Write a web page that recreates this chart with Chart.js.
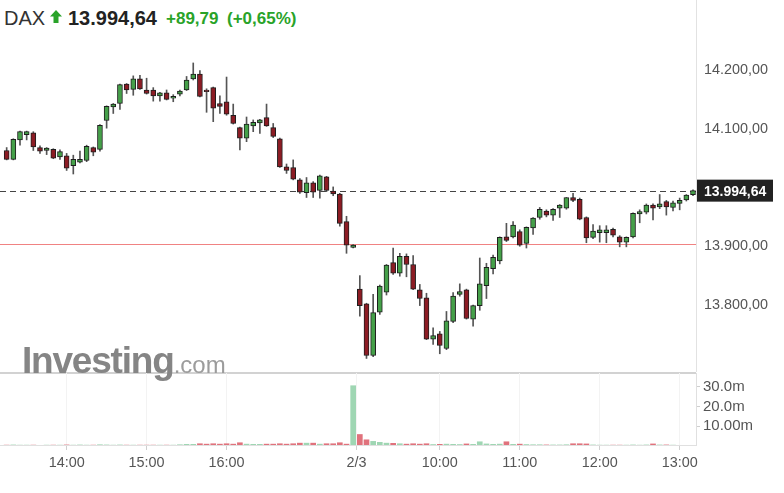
<!DOCTYPE html>
<html>
<head>
<meta charset="utf-8">
<script src="https://cdn.jsdelivr.net/npm/chart.js@4.4.1/dist/chart.umd.min.js"></script>
<style>
  html, body { margin: 0; padding: 0; background: #fff; }
  body { width: 784px; height: 493px; position: relative; overflow: hidden;
         font-family: "Liberation Sans", Arial, sans-serif; }
  .t { position: absolute; white-space: nowrap; line-height: 1; }
  #priceCanvas { position: absolute; left: 0; top: 0; }
  #volCanvas { position: absolute; left: 0; top: 373px; }
  .wm { position: absolute; left: 22px; top: 342px; white-space: nowrap; line-height: 1; }
</style>
</head>
<body>
<div class="t" style="left:4px;top:8px;font-size:20px;color:#333;">DAX</div>
<svg class="t" style="left:50px;top:10px;" width="12" height="13" viewBox="0 0 12 13">
  <polygon points="6,0 12,6.5 8.5,6.5 8.5,13 3.5,13 3.5,6.5 0,6.5" fill="#29a329"/>
</svg>
<div class="t" style="left:68px;top:8px;font-size:20px;font-weight:bold;color:#222;">13.994,64</div>
<div class="t" style="left:166px;top:10px;font-size:17px;font-weight:bold;color:#29a329;">+89,79</div>
<div class="t" style="left:227px;top:10px;font-size:17px;font-weight:bold;color:#29a329;">(+0,65%)</div>

<canvas id="priceCanvas" width="784" height="374"></canvas>
<canvas id="volCanvas" width="784" height="107"></canvas>

<div class="wm"><span style="font-size:37px;font-weight:bold;color:#858585;letter-spacing:-1.2px;">Investing</span><span style="font-size:24px;color:#9c9c9c;">.com</span></div>

<script>
// 5-minute DAX candles, 13:15 (day 1) .. 13:15 (2/3)
const opens = [14063,14048,14081,14090,14093,14068,14063,14065,14052,14054,
  14037,14043,14046,14068,14065,14114,14137,14143,14176,14167,
  14185,14166,14166,14156,14161,14152,14159,14166,14185,14193,
  14166,14170,14143,14146,14123,14102,14084,14105,14110,14119,
  14102,14083,14035,14034,14013,13991,14008,13995,14018,13994,
  13989,13942,13898,13827,13802,13714,13788,13822,13872,13854,
  13883,13869,13826,13812,13742,13751,13726,13772,13818,13826,
  13776,13799,13833,13862,13875,13916,13916,13925,13905,13931,
  13949,13960,13953,13965,13965,13983,13980,13949,13915,13923,
  13923,13929,13916,13907,13916,13955,13958,13970,13967,13976,
  13966,13973,13979,13988];
const highs = [14068,14083,14096,14096,14095,14071,14068,14066,14064,14058,
  14055,14062,14072,14069,14107,14139,14143,14176,14177,14190,
  14191,14186,14170,14162,14166,14158,14166,14189,14212,14199,
  14168,14171,14156,14188,14142,14103,14120,14115,14116,14142,
  14109,14084,14040,14047,14015,14017,14010,14021,14019,14001,
  13990,13951,13903,13850,13803,13818,13834,13869,13897,13888,
  13887,13884,13835,13820,13761,13755,13789,13821,13836,13827,
  13800,13880,13871,13885,13916,13939,13942,13928,13933,13949,
  13966,13962,13964,13971,13983,13990,13982,13950,13937,13935,
  13935,13931,13918,13916,13957,13962,13972,13972,13988,13978,
  13977,13982,13988,13996];
const lows = [14047,14047,14072,14081,14063,14058,14056,14049,14048,14029,
  14023,14042,14044,14054,14062,14101,14126,14133,14160,14157,
  14167,14159,14147,14147,14149,14146,14156,14165,14183,14154,
  14128,14112,14126,14123,14108,14064,14078,14095,14092,14104,
  14085,14034,14024,14013,13990,13983,13983,13982,13993,13986,
  13934,13888,13897,13781,13709,13712,13784,13817,13852,13849,
  13848,13826,13799,13741,13733,13717,13724,13770,13815,13776,
  13764,13791,13811,13853,13870,13908,13914,13900,13897,13920,
  13946,13950,13944,13949,13963,13976,13945,13906,13913,13907,
  13906,13916,13899,13899,13914,13940,13955,13945,13964,13953,
  13960,13962,13977,13986];
const closes = [14048,14082,14095,14095,14069,14062,14067,14050,14061,14033,
  14048,14048,14070,14060,14106,14138,14142,14175,14166,14185,
  14168,14160,14156,14161,14150,14155,14164,14183,14193,14155,
  14163,14135,14138,14125,14109,14084,14108,14111,14115,14105,
  14087,14035,14029,14014,13992,14008,13992,14020,13995,13989,
  13939,13902,13902,13799,13714,13787,13832,13868,13854,13883,
  13869,13827,13811,13742,13748,13731,13773,13815,13823,13777,
  13799,13836,13864,13881,13915,13910,13936,13902,13932,13948,
  13963,13953,13963,13970,13983,13978,13946,13914,13926,13928,
  13928,13919,13907,13915,13956,13959,13970,13965,13972,13967,
  13974,13978,13987,13994.64];
// volume in millions
const volumes = [0.3,0.4,0.3,0.3,0.3,0.2,0.3,0.3,0.3,0.4,
  0.3,0.4,0.3,0.3,0.5,0.4,0.3,0.4,0.3,0.3,
  0.3,0.3,0.3,0.3,0.3,0.3,0.5,0.7,0.7,1.0,
  0.8,1.0,0.8,1.0,0.8,1.5,0.8,0.7,0.7,0.8,
  0.8,1.0,0.8,1.0,1.3,1.3,1.3,0.8,1.0,1.0,
  1.5,0.8,30.5,5.7,3.0,2.2,1.7,1.3,1.2,1.0,
  0.8,1.0,0.8,1.0,0.6,0.7,0.8,0.7,0.6,0.9,
  0.7,2.0,0.9,0.7,0.8,2.0,0.7,0.8,0.6,0.5,
  0.5,0.4,0.4,0.4,0.5,1.0,1.0,0.9,0.4,0.3,
  0.3,0.3,0.3,0.3,0.4,0.3,0.4,0.9,0.4,0.4,
  0.3,0.2,0.2,0.2];

const tickIndex = [10, 22, 34, 53.5, 66, 78, 90, 102];
const tickLabels = ['14:00', '15:00', '16:00', '2/3', '10:00', '11:00', '12:00', '13:00'];
const priceTicks = [13800, 13900, 14100, 14200];
const volTicks = [10, 20, 30];
const volTickLabels = ['10.00m', '20.0m', '30.0m'];
const lastPrice = 13994.64;
const prevClose = 13904.85;

const UP = '#45a049', DOWN = '#8c1c24', EDGE = '#1e1e1e', WICK = '#555';
const VUP = '#9fd6b3', VDOWN = '#e0727c';
const AXIS_TXT = '#555';
const X_MAX = 104.45;

function fmtDE(v) {
    const [i, d] = v.toFixed(2).split('.');
    return i.replace(/\B(?=(\d{3})+(?!\d))/g, '.') + ',' + d;
}

// pin two values of a scale to two canvas pixels, whatever padding the layout took
function pinScale(chart, id, v1, p1, v2, p2) {
    const ca = chart.chartArea;
    const k = (p2 - p1) / (v1 - v2);
    chart.options.scales[id].max = v1 + (p1 - ca.top) / k;
    chart.options.scales[id].min = v2 - (ca.bottom - p2) / k;
    chart.update();
}

const noPad = (s) => { s.paddingTop = 0; s.paddingBottom = 0; };

const isUp = closes.map((c, i) => c >= opens[i]);

// dashed last-price line, previous close line, last-price box, panel separator
const priceLines = {
    id: 'priceLines',
    beforeDatasetsDraw(chart) {
        const { ctx, chartArea: a, scales: { y } } = chart;
        ctx.save();
        const yp = Math.floor(y.getPixelForValue(prevClose)) + 1.5;
        ctx.strokeStyle = '#f08282';
        ctx.lineWidth = 1;
        ctx.beginPath(); ctx.moveTo(a.left, yp); ctx.lineTo(a.right, yp); ctx.stroke();
        const yl = Math.round(y.getPixelForValue(lastPrice)) + 0.5;
        ctx.strokeStyle = '#444';
        ctx.setLineDash([6, 4]);
        ctx.beginPath(); ctx.moveTo(a.left, yl); ctx.lineTo(a.right, yl); ctx.stroke();
        ctx.restore();
    },
    afterDraw(chart) {
        const { ctx, chartArea: a, scales: { y } } = chart;
        ctx.save();
        const yl = y.getPixelForValue(lastPrice);
        ctx.fillStyle = '#222';
        ctx.fillRect(a.right, yl - 11, 77, 22);
        ctx.fillStyle = '#fff';
        ctx.font = 'bold 14px "Liberation Sans", Arial, sans-serif';
        ctx.textBaseline = 'middle';
        ctx.fillText(fmtDE(lastPrice), a.right + 8, yl + 1);
        ctx.strokeStyle = '#d2d2d2';
        ctx.lineWidth = 2;
        ctx.beginPath(); ctx.moveTo(0, 373); ctx.lineTo(a.right, 373); ctx.stroke();
        ctx.strokeStyle = '#e2e2e2';
        ctx.lineWidth = 1;
        ctx.beginPath(); ctx.moveTo(a.right + 0.5, 0); ctx.lineTo(a.right + 0.5, 372); ctx.stroke();
        ctx.restore();
    }
};

const priceChart = new Chart(document.getElementById('priceCanvas'), {
    type: 'bar',
    data: {
        datasets: [
            {
                label: 'wick',
                data: closes.map((c, i) => ({ x: i + 1, y: [lows[i], highs[i]] })),
                backgroundColor: WICK,
                barThickness: 1,
                grouped: false,
                order: 2
            },
            {
                label: 'body',
                data: closes.map((c, i) => ({ x: i + 1, y: [opens[i], c] })),
                backgroundColor: isUp.map(u => u ? UP : DOWN),
                borderColor: EDGE,
                borderWidth: 1,
                borderSkipped: false,
                barThickness: 5,
                grouped: false,
                order: 1
            }
        ]
    },
    options: {
        responsive: false,
        devicePixelRatio: 1,
        animation: false,
        layout: { padding: 0, autoPadding: false },
        scales: {
            x: { type: 'linear', min: 0, max: X_MAX, offset: false, display: false },
            y: {
                position: 'right',
                min: 13682.6, max: 14319.1,
                afterFit: (s) => { s.width = 88; noPad(s); },
                afterBuildTicks: (s) => { s.ticks = priceTicks.map(v => ({ value: v })); },
                border: { display: false },
                grid: { drawOnChartArea: false, drawTicks: false },
                ticks: {
                    padding: 8, color: AXIS_TXT,
                    font: { family: '"Liberation Sans", Arial, sans-serif', size: 14.4 },
                    callback: (v) => fmtDE(v)
                }
            }
        },
        plugins: { legend: { display: false }, tooltip: { enabled: false } }
    },
    plugins: [priceLines]
});
pinScale(priceChart, 'y', 14200, 70, 13800, 305);

const volChart = new Chart(document.getElementById('volCanvas'), {
    type: 'bar',
    data: {
        datasets: [{
            label: 'volume',
            data: volumes.map((v, i) => ({ x: i + 1, y: v })),
            backgroundColor: isUp.map(u => u ? VUP : VDOWN),
            barThickness: 5,
            grouped: false
        }]
    },
    options: {
        responsive: false,
        devicePixelRatio: 1,
        animation: false,
        layout: { padding: 0, autoPadding: false },
        scales: {
            x: {
                type: 'linear', min: 0, max: X_MAX, offset: false,
                afterBuildTicks: (s) => { s.ticks = tickIndex.map(v => ({ value: v })); },
                afterFit: (s) => { s.height = 35; s.paddingLeft = 0; s.paddingRight = 0; },
                border: { color: '#e0e0e0' },
                grid: { color: '#f3f3f3', tickColor: '#cfcfcf', tickLength: 5, offset: false },
                ticks: {
                    autoSkip: false, maxRotation: 0, padding: 4, color: AXIS_TXT,
                    font: { family: '"Liberation Sans", Arial, sans-serif', size: 14.4 },
                    callback: (v, i) => tickLabels[i]
                }
            },
            y: {
                position: 'right',
                min: 0, max: 36.9,
                afterFit: (s) => { s.width = 88; noPad(s); },
                afterBuildTicks: (s) => { s.ticks = volTicks.map(v => ({ value: v })); },
                border: { color: '#e0e0e0' },
                grid: { drawOnChartArea: false, tickColor: '#cfcfcf', tickLength: 4 },
                ticks: {
                    padding: 3, color: AXIS_TXT,
                    font: { family: '"Liberation Sans", Arial, sans-serif', size: 15 },
                    callback: (v, i) => volTickLabels[i]
                }
            }
        },
        plugins: { legend: { display: false }, tooltip: { enabled: false } }
    }
});
// canvas-local pixels: 30m at 386.7-373, 0 at 445.7-373
pinScale(volChart, 'y', 30, 13.7, 0, 72.7);
</script>
</body>
</html>
